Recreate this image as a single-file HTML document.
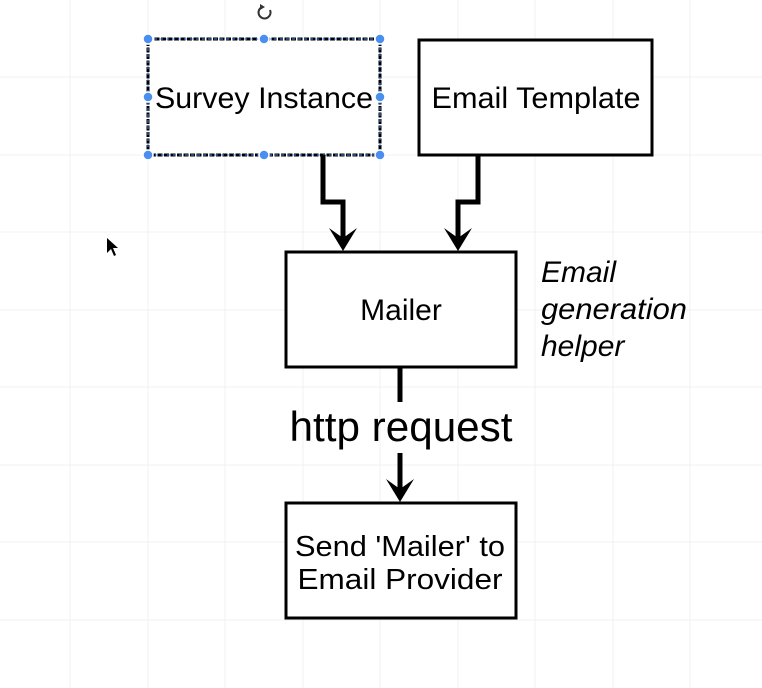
<!DOCTYPE html>
<html><head><meta charset="utf-8"><style>
html,body{margin:0;padding:0;background:#fff;}
body{width:762px;height:688px;overflow:hidden;position:relative;font-family:"Liberation Sans",sans-serif;}
</style></head><body>
<svg width="762" height="688" viewBox="0 0 762 688" xmlns="http://www.w3.org/2000/svg" style="position:absolute;left:0;top:0">
<g stroke="#f0f0f0" stroke-width="1">
<line x1="148" y1="0" x2="148" y2="688"/><line x1="225" y1="0" x2="225" y2="688"/><line x1="303" y1="0" x2="303" y2="688"/><line x1="380" y1="0" x2="380" y2="688"/><line x1="458" y1="0" x2="458" y2="688"/><line x1="535" y1="0" x2="535" y2="688"/><line x1="613" y1="0" x2="613" y2="688"/><line x1="690" y1="0" x2="690" y2="688"/><line x1="70" y1="0" x2="70" y2="688"/>
<line x1="0" y1="77" x2="762" y2="77"/><line x1="0" y1="155" x2="762" y2="155"/><line x1="0" y1="232" x2="762" y2="232"/><line x1="0" y1="310" x2="762" y2="310"/><line x1="0" y1="387" x2="762" y2="387"/><line x1="0" y1="465" x2="762" y2="465"/><line x1="0" y1="542" x2="762" y2="542"/><line x1="0" y1="620" x2="762" y2="620"/>
</g>
<g fill="#fff" stroke="#000" stroke-width="3">
<rect x="148" y="39" width="232" height="116" stroke-dasharray="5 1.5"/>
<rect x="419" y="40" width="233" height="115"/>
<rect x="286" y="252" width="230" height="115"/>
<rect x="286" y="503" width="230" height="115"/>
</g>
<rect x="148" y="39" width="232" height="116" fill="none" stroke="#4a8ef0" stroke-width="1" stroke-dasharray="3 3"/>
<g fill="none" stroke="#000" stroke-width="5">
<polyline points="323,155 323,202 343,202 343,238"/>
<polyline points="478,155 478,202 458,202 458,238"/>
<line x1="400" y1="367" x2="400" y2="402"/>
<line x1="400" y1="453" x2="400" y2="490"/>
</g>
<g fill="#000">
<path d="M329,228 L343,251 L357,228 L343,238 Z"/>
<path d="M444,228 L458,251 L472,228 L458,238 Z"/>
<path d="M386,479 L400,502 L414,479 L400,489 Z"/>
</g>
<g fill="#4a8ef0" stroke="#fff" stroke-width="1.5">
<circle cx="148" cy="39" r="5"/><circle cx="264" cy="39" r="5"/><circle cx="380" cy="39" r="5"/>
<circle cx="148" cy="97" r="5"/><circle cx="380" cy="97" r="5"/>
<circle cx="148" cy="155" r="5"/><circle cx="264" cy="155" r="5"/><circle cx="380" cy="155" r="5"/>
</g>
<path d="M270,10 A6,6 0 1 1 262,7" fill="none" stroke="#333" stroke-width="2"/>
<path d="M260,4 L265,7 L260,10 Z" fill="#333"/>
<path d="M107,238 L107,253 L111,249 L114,256 L116,255 L113,248 L118,248 Z" fill="#000"/>
<g font-family="Liberation Sans, sans-serif" fill="#000" text-anchor="middle">
<text x="264" y="108" font-size="30" textLength="218" lengthAdjust="spacingAndGlyphs">Survey Instance</text>
<text x="536" y="108" font-size="30" textLength="209" lengthAdjust="spacingAndGlyphs">Email Template</text>
<text x="401" y="320" font-size="30">Mailer</text>
<text x="401" y="441" font-size="42" textLength="223" lengthAdjust="spacingAndGlyphs">http request</text>
<text x="400" y="556" font-size="29" textLength="210" lengthAdjust="spacingAndGlyphs">Send 'Mailer' to</text>
<text x="400" y="589" font-size="29" textLength="205" lengthAdjust="spacingAndGlyphs">Email Provider</text>
</g>
<g font-family="Liberation Sans, sans-serif" font-style="italic" font-size="30" fill="#000">
<text x="541" y="282">Email</text>
<text x="541" y="319" textLength="146" lengthAdjust="spacingAndGlyphs">generation</text>
<text x="541" y="356">helper</text>
</g>
</svg>
</body></html>
